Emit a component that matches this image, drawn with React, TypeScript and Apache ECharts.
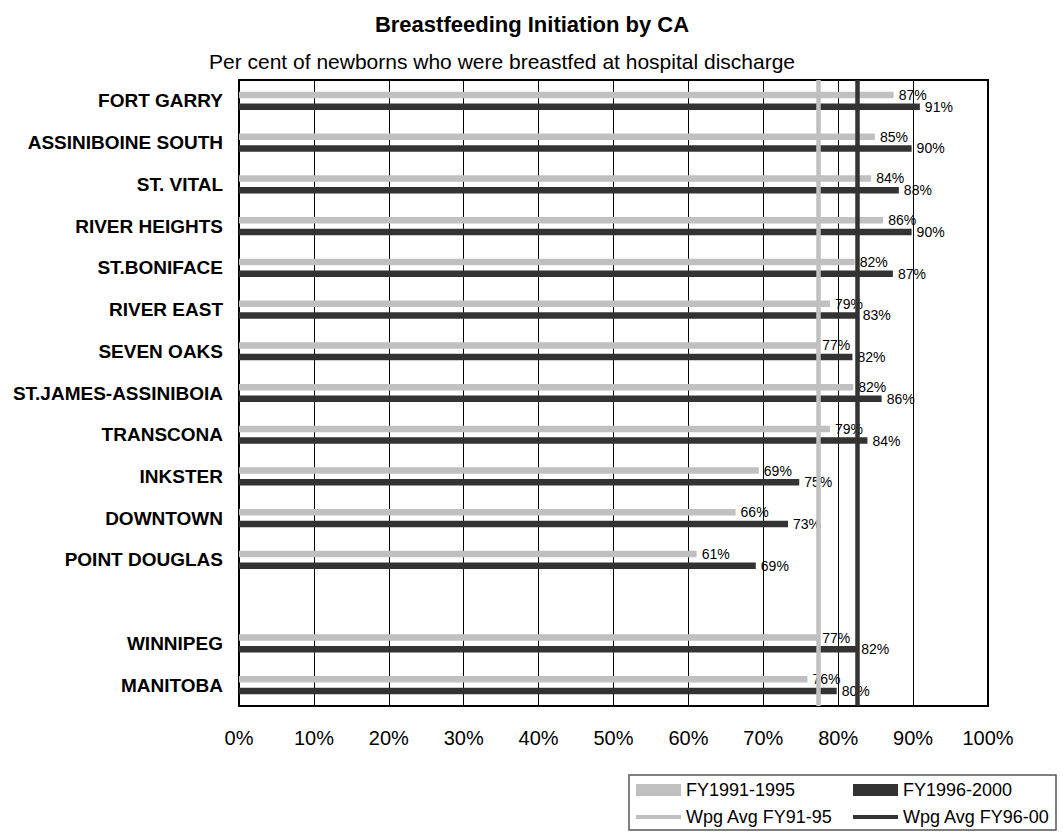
import React, { useEffect, useRef } from "react";
import * as echarts from "echarts";

const categories = [
  "FORT GARRY",
  "ASSINIBOINE SOUTH",
  "ST. VITAL",
  "RIVER HEIGHTS",
  "ST.BONIFACE",
  "RIVER EAST",
  "SEVEN OAKS",
  "ST.JAMES-ASSINIBOIA",
  "TRANSCONA",
  "INKSTER",
  "DOWNTOWN",
  "POINT DOUGLAS",
  "",
  "WINNIPEG",
  "MANITOBA",
];
const fy9195 = [87.4, 84.9, 84.4, 86.0, 82.2, 78.9, 77.2, 82.0, 78.9, 69.4, 66.3, 61.1, null, 77.2, 75.9];
const fy9600 = [90.9, 89.8, 88.1, 89.8, 87.3, 82.6, 81.9, 85.8, 83.9, 74.8, 73.3, 69.0, null, 82.4, 79.8];
const avg9195 = 77.4;
const avg9600 = 82.5;

const FONT = "'Liberation Sans', Arial, sans-serif";
const LIGHT = "#c0c0c0";
const DARK = "#333333";

export default function App() {
  const ref = useRef<HTMLDivElement>(null);
  useEffect(() => {
    const chart = echarts.init(ref.current!, null, { renderer: "svg" });
    const label = {
      show: true,
      position: "right",
      distance: 5,
      fontFamily: FONT,
      fontSize: 14,
      color: "#000",
      formatter: (p: any) => Math.round(p.value) + "%",
    };
    const legendBase = {
      top: 781,
      orient: "vertical",
      padding: 0,
      height: 80,
      itemWidth: 45,
      itemHeight: 12,
      itemGap: 9,
      textStyle: { fontFamily: FONT, fontSize: 18, color: "#000" },
      lineStyle: { width: 4 },
    };
    const hidden = { opacity: 0, color: "rgba(0,0,0,0)", borderWidth: 0 };
    chart.setOption({
      animation: false,
      backgroundColor: "#fff",
      textStyle: { fontFamily: FONT },
      grid: {
        left: 239,
        right: 75,
        top: 80,
        bottom: 128,
        show: true,
        borderColor: "#000",
        borderWidth: 2,
        backgroundColor: "transparent",
      },
      xAxis: {
        type: "value",
        min: 0,
        max: 100,
        interval: 10,
        axisLine: { show: true, lineStyle: { color: "#000", width: 2 } },
        axisTick: { show: false },
        axisLabel: {
          formatter: "{value}%",
          fontFamily: FONT,
          fontSize: 20,
          color: "#000",
          margin: 22,
        },
        splitLine: { show: true, lineStyle: { color: "#000", width: 1 } },
      },
      yAxis: {
        type: "category",
        data: categories,
        inverse: true,
        axisLine: { show: true, lineStyle: { color: "#000", width: 2 } },
        axisTick: { show: false },
        axisLabel: {
          fontFamily: FONT,
          fontSize: 19,
          fontWeight: "bold",
          color: "#000",
          margin: 16,
        },
        splitLine: { show: false },
      },
      legend: [
        {
          ...legendBase,
          left: 634,
          data: [
            { name: "FY1991-1995", icon: "rect" },
            { name: "Wpg Avg FY91-95", itemStyle: hidden },
          ],
        },
        {
          ...legendBase,
          left: 851,
          data: [
            { name: "FY1996-2000", icon: "rect" },
            { name: "Wpg Avg FY96-00", itemStyle: hidden },
          ],
        },
      ],
      graphic: [
        {
          type: "text",
          x: 532,
          y: 24,
          style: {
            text: "Breastfeeding Initiation by CA",
            fontFamily: FONT,
            fontSize: 22,
            fontWeight: "bold",
            fill: "#000",
            textAlign: "center",
            textVerticalAlign: "middle",
          },
        },
        {
          type: "text",
          x: 502,
          y: 61,
          style: {
            text: "Per cent of newborns who were breastfed at hospital discharge",
            fontFamily: FONT,
            fontSize: 21,
            fill: "#000",
            textAlign: "center",
            textVerticalAlign: "middle",
          },
        },
        {
          type: "rect",
          shape: { x: 629, y: 775, width: 427, height: 55 },
          style: { fill: "none", stroke: "#555", lineWidth: 1.5 },
          z: -1,
        },
      ],
      series: [
        {
          name: "FY1991-1995",
          type: "bar",
          data: fy9195,
          barWidth: 6.5,
          barGap: "80%",
          itemStyle: { color: LIGHT },
          label,
        },
        {
          name: "FY1996-2000",
          type: "bar",
          data: fy9600,
          barWidth: 6.5,
          barGap: "80%",
          itemStyle: { color: DARK },
          label,
        },
        {
          name: "Wpg Avg FY91-95",
          type: "line",
          data: [],
          symbol: "none",
          z: 5,
          itemStyle: { color: LIGHT },
          lineStyle: { color: LIGHT, width: 4 },
          markLine: {
            silent: true,
            symbol: "none",
            label: { show: false },
            lineStyle: { color: LIGHT, width: 4.5, type: "solid" },
            data: [{ xAxis: avg9195 }],
          },
        },
        {
          name: "Wpg Avg FY96-00",
          type: "line",
          data: [],
          symbol: "none",
          z: 5,
          itemStyle: { color: DARK },
          lineStyle: { color: DARK, width: 4 },
          markLine: {
            silent: true,
            symbol: "none",
            label: { show: false },
            lineStyle: { color: DARK, width: 4.5, type: "solid" },
            data: [{ xAxis: avg9600 }],
          },
        },
      ],
    });
    return () => chart.dispose();
  }, []);
  return (
    <div
      ref={ref}
      style={{ position: "absolute", left: 0, top: 0, width: 1063, height: 834 }}
    />
  );
}
